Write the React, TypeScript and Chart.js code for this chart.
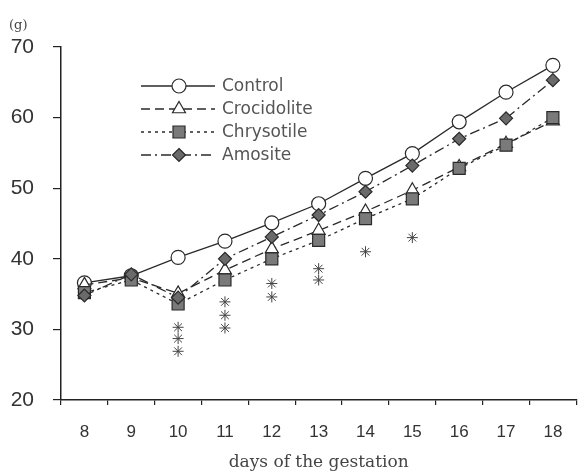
import React, { useEffect, useRef } from 'react';
import { Chart, registerables } from 'chart.js';

Chart.register(...registerables);

const days = ['8', '9', '10', '11', '12', '13', '14', '15', '16', '17', '18'];
const yMin = 20;
const yMax = 70;
const yStep = 10;
const seriesNames = ['Control', 'Crocidolite', 'Chrysotile', 'Amosite'];
const control = [36.6, 37.6, 40.2, 42.5, 45.1, 47.8, 51.4, 54.9, 59.4, 63.6, 67.4];
const crocidolite = [36.3, 37.3, 35.1, 38.4, 41.4, 44.0, 46.7, 49.7, 53.0, 56.3, 59.5];
const chrysotile = [35.2, 37.0, 33.6, 37.0, 40.0, 42.6, 45.7, 48.5, 52.8, 56.1, 60.0];
const amosite = [34.8, 37.8, 34.5, 40.0, 43.1, 46.2, 49.5, 53.2, 57.0, 59.9, 65.3];
const starDays = ['10', '10', '10', '11', '11', '11', '12', '12', '13', '13', '14', '15'];
const starValues = [30.3, 28.7, 26.9, 33.9, 32.0, 30.2, 36.5, 34.6, 38.6, 37.0, 41.0, 43.0];
const unitLabel = '(g)';
const xTitle = 'days of the gestation';

const LINE = '#2a2a2a';

function drawMarker(ctx: CanvasRenderingContext2D, style: string, x: number, y: number, r: number, fill: string, stroke: string, lw: number) {
  ctx.save();
  ctx.setLineDash([]);
  ctx.beginPath();
  if (style === 'circle') {
    ctx.arc(x, y, r, 0, Math.PI * 2);
  } else if (style === 'triangle') {
    for (let i = 0; i < 3; i++) {
      const a = -Math.PI / 2 + (i * 2 * Math.PI) / 3;
      const px = x + Math.cos(a) * r;
      const py = y + Math.sin(a) * r;
      if (i === 0) ctx.moveTo(px, py); else ctx.lineTo(px, py);
    }
    ctx.closePath();
  } else if (style === 'rect') {
    const s = r * Math.SQRT1_2;
    ctx.rect(x - s, y - s, 2 * s, 2 * s);
  } else if (style === 'rectRot') {
    ctx.moveTo(x, y - r);
    ctx.lineTo(x + r, y);
    ctx.lineTo(x, y + r);
    ctx.lineTo(x - r, y);
    ctx.closePath();
  }
  ctx.fillStyle = fill;
  ctx.fill();
  ctx.lineWidth = lw;
  ctx.strokeStyle = stroke;
  ctx.stroke();
  ctx.restore();
}

const insideLegend = {
  id: 'insideLegend',
  afterDraw(chart: any) {
    const ctx: CanvasRenderingContext2D = chart.ctx;
    const x0 = 141;
    const x1 = 215;
    const xm = 179;
    const yTop = 86;
    const rowH = 23;
    ctx.save();
    seriesNames.forEach((name, i) => {
      const ds: any = chart.data.datasets[i];
      const y = yTop + i * rowH;
      ctx.beginPath();
      ctx.setLineDash(ds.borderDash || []);
      ctx.strokeStyle = ds.borderColor;
      ctx.lineWidth = ds.borderWidth;
      ctx.moveTo(x0, y);
      ctx.lineTo(x1, y);
      ctx.stroke();
      drawMarker(ctx, ds.pointStyle, xm, y, ds.pointRadius, ds.pointBackgroundColor, ds.pointBorderColor, ds.pointBorderWidth);
      ctx.setLineDash([]);
      ctx.fillStyle = '#555';
      ctx.font = '17px "DejaVu Sans"';
      ctx.textBaseline = 'middle';
      ctx.textAlign = 'left';
      ctx.fillText(name, 222, y + 1);
    });
    ctx.fillStyle = '#444';
    ctx.font = '13px "DejaVu Serif"';
    ctx.textAlign = 'left';
    ctx.textBaseline = 'middle';
    ctx.fillText(unitLabel, 9, 26);
    ctx.restore();
  },
};

export default function App() {
  const ref = useRef<HTMLCanvasElement>(null);
  useEffect(() => {
    if (!ref.current) return;
    const mk = (label: string, data: number[], style: string, r: number, fill: string, dash: number[], order: number) => ({
      label,
      data,
      borderColor: LINE,
      borderWidth: 1.3,
      borderDash: dash,
      pointStyle: style,
      pointRadius: r,
      pointBackgroundColor: fill,
      pointBorderColor: LINE,
      pointBorderWidth: 1.2,
      tension: 0,
      fill: false,
      order,
    });
    const chart = new Chart(ref.current, {
      type: 'line',
      data: {
        labels: days,
        datasets: [
          mk(seriesNames[0], control, 'circle', 7, '#ffffff', [], 4),
          mk(seriesNames[1], crocidolite, 'triangle', 7.5, '#ffffff', [9, 5], 3),
          mk(seriesNames[2], chrysotile, 'rect', 8.5, '#7a7a7a', [3, 4], 2),
          mk(seriesNames[3], amosite, 'rectRot', 6.5, '#6a6a6a', [10, 4, 2, 4], 1),
          {
            label: 'significance',
            data: starDays.map((d, i) => ({ x: d, y: starValues[i] })),
            showLine: false,
            pointStyle: 'star',
            pointRadius: 5.5,
            pointBorderColor: '#444',
            pointBorderWidth: 1,
            borderColor: '#444',
            order: 0,
          } as any,
        ],
      },
      options: {
        animation: false,
        responsive: false,
        layout: { padding: { top: 47, right: 1, left: 0, bottom: 0 } },
        plugins: {
          legend: { display: false },
          tooltip: { enabled: false },
          title: { display: false },
        },
        scales: {
          x: {
            type: 'category',
            offset: true,
            grid: {
              offset: true,
              drawOnChartArea: false,
              drawTicks: true,
              tickLength: 5,
              color: '#222',
              lineWidth: 1.2,
            },
            border: { display: true, color: '#222', width: 1.5 },
            ticks: {
              color: '#333',
              font: { family: '"Liberation Sans"', size: 17 },
              padding: 17,
              maxRotation: 0,
            },
            title: {
              display: true,
              text: xTitle,
              color: '#444',
              font: { family: '"DejaVu Serif"', size: 17 },
              padding: { top: 0, bottom: 2 },
            },
            afterFit: (s: any) => { s.height = 75; },
          },
          y: {
            min: yMin,
            max: yMax,
            grid: {
              drawOnChartArea: false,
              drawTicks: true,
              tickLength: 8,
              color: '#222',
              lineWidth: 1.2,
            },
            border: { display: true, color: '#222', width: 1.5 },
            ticks: {
              stepSize: yStep,
              color: '#333',
              font: { family: '"Liberation Sans"', size: 21 },
              padding: 19,
            },
            afterFit: (s: any) => { s.width = 61; },
          },
        },
      } as any,
      plugins: [insideLegend],
    });
    return () => chart.destroy();
  }, []);
  return (
    <div style={{ position: 'absolute', left: 0, top: 0, width: 586, height: 475, background: '#fff' }}>
      <canvas ref={ref} width={586} height={475} style={{ display: 'block' }} />
    </div>
  );
}
